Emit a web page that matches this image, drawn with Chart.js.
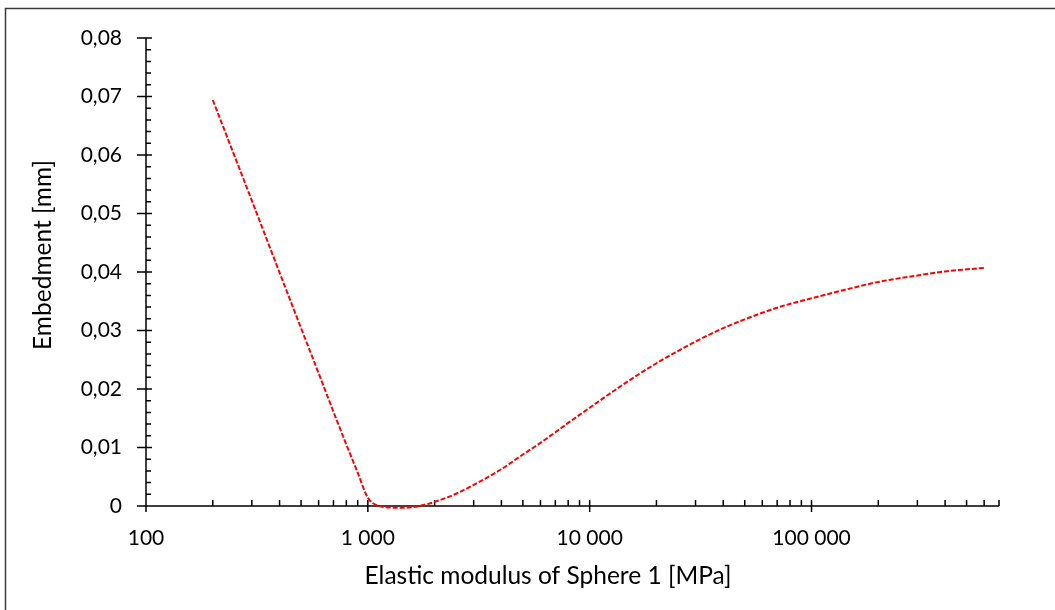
<!DOCTYPE html>
<html>
<head>
<meta charset="utf-8">
<script src="https://cdn.jsdelivr.net/npm/chart.js@4"></script>
<style>
html,body{margin:0;padding:0;background:#fff;}
</style>
</head>
<body>
<canvas id="embedmentChart" width="1055" height="610"></canvas>
<script>
// 탄성계수 [MPa]
let modulus = [200, 300, 400, 500, 600, 700, 800, 900, 1000, 1100, 1200, 1400, 1600, 1800, 2000, 2500, 3000, 4000, 5000, 6000, 7000, 8000, 10000, 15000, 20000, 30000, 40000, 50000, 70000, 100000, 150000, 200000, 300000, 400000, 600000];
// 매입량 [mm]
let embedment = [0.0694, 0.0522, 0.0399, 0.0304, 0.0227, 0.0161, 0.0105, 0.0057, 0.0014, 0.0001, -0.0002, -0.0003, -0.0002, 0.0002, 0.0007, 0.0021, 0.0036, 0.0063, 0.0088, 0.0108, 0.0126, 0.0142, 0.0168, 0.0214, 0.0244, 0.0281, 0.0304, 0.0319, 0.0339, 0.0355, 0.0372, 0.0383, 0.0394, 0.0401, 0.0407];
// 눈금
let xMajorTicks = [100, 1000, 10000, 100000];
let xRange = [100, 700000];
let yTicks = [0, 0.01, 0.02, 0.03, 0.04, 0.05, 0.06, 0.07, 0.08];

let fontFamily = "Lato, 'Open Sans', sans-serif";

let formatThousands = function(v){
    return String(v).replace(/\B(?=(\d{3})+(?!\d))/g, " ");
}

let isMajorX = function(v){
    return xMajorTicks.some(function(t){ return Math.abs(t - v) < 1e-6 * t; });
}

// 엑셀 스타일 축/눈금
let excelAxes = {
    id: "excelAxes",
    beforeDraw: function(chart){
        let ctx = chart.ctx;
        ctx.save();
        ctx.fillStyle = "#fff";
        ctx.fillRect(0, 0, chart.width, chart.height);
        ctx.strokeStyle = "#3a3a3a";
        ctx.lineWidth = 1.5;
        ctx.strokeRect(5.5, 8.5, 1200, 800);
        ctx.restore();
    },
    beforeDatasetsDraw: function(chart){
        let ctx = chart.ctx;
        let xs = chart.scales.x, ys = chart.scales.y;
        let area = chart.chartArea;
        ctx.save();
        ctx.strokeStyle = "#000";
        ctx.lineWidth = 1.5;
        ctx.beginPath();
        ctx.moveTo(area.left, ys.getPixelForValue(yTicks[yTicks.length - 1]));
        ctx.lineTo(area.left, area.bottom);
        ctx.moveTo(area.left, area.bottom);
        ctx.lineTo(xs.getPixelForValue(xRange[1]), area.bottom);
        // y 눈금
        let yMax = yTicks[yTicks.length - 1];
        for(let i = 0; i <= 40; i++){
            let py = ys.getPixelForValue(yMax * i / 40);
            if(i % 5 == 0){
                ctx.moveTo(area.left - 9, py);
                ctx.lineTo(area.left + 6, py);
            }else{
                ctx.moveTo(area.left, py);
                ctx.lineTo(area.left + 5, py);
            }
        }
        // x 눈금
        for(let d = xRange[0]; d <= xRange[1]; d *= 10){
            for(let k = 1; k <= 9; k++){
                let v = k * d;
                if(v > xRange[1]) break;
                let px = xs.getPixelForValue(v);
                if(k == 1){
                    ctx.moveTo(px, area.bottom - 6);
                    ctx.lineTo(px, area.bottom + 6);
                }else{
                    ctx.moveTo(px, area.bottom - 6);
                    ctx.lineTo(px, area.bottom);
                }
            }
        }
        ctx.stroke();
        ctx.restore();
    },
    afterDraw: function(chart){
        let ctx = chart.ctx;
        ctx.save();
        ctx.fillStyle = "#000";
        ctx.font = "24.5px " + fontFamily;
        ctx.textAlign = "center";
        ctx.textBaseline = "alphabetic";
        ctx.fillText("Elastic modulus of Sphere 1 [MPa]", 548, 584);
        ctx.translate(51, 255);
        ctx.rotate(-Math.PI / 2);
        ctx.fillText("Embedment [mm]", 0, 0);
        ctx.restore();
    }
};

let renderEmbedmentChart = function(component, labels, data){
    let ctx = document.querySelector(component).getContext("2d");
    let points = labels.map(function(v, i){ return {x: v, y: data[i]}; });
    let myChart = new Chart(ctx, {
        type: "scatter",
        data: {
            datasets: [{
                data: points,
                showLine: true,
                borderColor: "#ff0000",
                borderWidth: 2,
                borderDash: [5, 2],
                pointRadius: 0,
                cubicInterpolationMode: "monotone",
                clip: false
            }]
        },
        options: {
            responsive: false,
            animation: false,
            devicePixelRatio: 1,
            layout: {padding: {top: 38, right: 56, left: 0, bottom: 0}},
            plugins: {legend: {display: false}, tooltip: {enabled: false}},
            scales: {
                x: {
                    type: "logarithmic",
                    min: xRange[0],
                    max: xRange[1],
                    afterFit: function(scale){ scale.height = 104; },
                    grid: {display: false, drawTicks: false},
                    border: {display: false},
                    afterBuildTicks: function(scale){
                        scale.ticks = xMajorTicks.map(function(v){ return {value: v, major: true}; });
                    },
                    ticks: {
                        autoSkip: false,
                        maxRotation: 0,
                        padding: 20,
                        color: "#000",
                        font: {family: fontFamily, size: 21},
                        callback: function(v){ return isMajorX(v) ? formatThousands(v) : ""; }
                    }
                },
                y: {
                    min: 0,
                    max: yTicks[yTicks.length - 1],
                    afterFit: function(scale){ scale.width = 146; },
                    grid: {display: false, drawTicks: false},
                    border: {display: false},
                    afterBuildTicks: function(scale){
                        scale.ticks = yTicks.map(function(v){ return {value: v}; });
                    },
                    ticks: {
                        padding: 24,
                        color: "#000",
                        font: {family: fontFamily, size: 21},
                        callback: function(v){ return v == 0 ? "0" : v.toFixed(2).replace(".", ","); }
                    }
                }
            }
        },
        plugins: [excelAxes]
    });
}

renderEmbedmentChart("#embedmentChart", modulus, embedment);
</script>
</body>
</html>
